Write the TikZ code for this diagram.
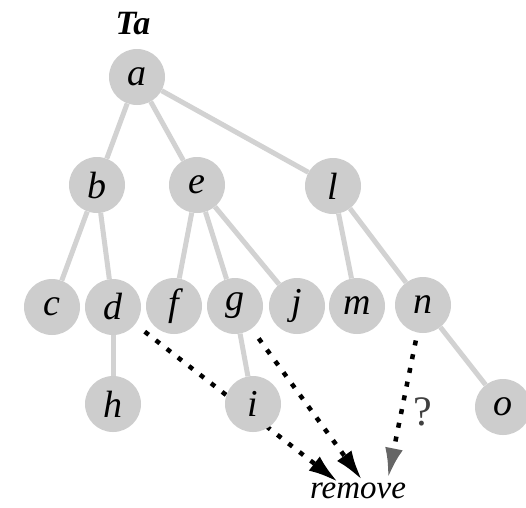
\documentclass[tikz,border=0pt]{standalone}
\usepackage{fontspec}
\setmainfont{Liberation Serif}
\usetikzlibrary{arrows.meta,backgrounds}
\definecolor{nodegray}{RGB}{205,205,205}
\definecolor{edgegray}{RGB}{210,210,210}
\tikzset{
  vertex/.style={circle,fill=nodegray,minimum size=56pt,inner sep=0pt,
    font=\fontsize{38}{38}\selectfont\itshape},
  treeedge/.style={draw=edgegray,line width=5pt},
  moved/.style={line width=4.5pt,dash pattern=on 5pt off 9pt,
    -{Latex[length=30pt,width=18pt]}},
}
\begin{document}
\begin{tikzpicture}[x=1pt,y=-1pt]
      \useasboundingbox (0,0) rectangle (526,507);
      \draw
        (137,77) node[vertex] (a){a}
        (97,185) node[vertex] (b){b}
        (197,185) node[vertex] (e){e}
        (333,186) node[vertex] (l){l}
        (52,307) node[vertex] (c){c}
        (113,307) node[vertex] (d){d}
        (174,306) node[vertex] (f){f}
        (235,306) node[vertex] (g){g}
        (297,306) node[vertex] (j){j}
        (357,306) node[vertex] (m){m}
        (423,305) node[vertex] (n){n}
        (113,404) node[vertex] (h){h}
        (253,404) node[vertex] (i){i}
        (503,407) node[vertex] (o){o};
      \node[font=\fontsize{34}{34}\selectfont\bfseries\itshape] (Ta) at (133,24) {Ta};
      \node[font=\fontsize{33}{33}\selectfont\itshape] (remove) at (358,491) {remove};
      \node[font=\fontsize{42}{42}\selectfont,text=black!75] (q) at (423,412) {?};
      \coordinate (in1) at (338,482);
      \coordinate (in2) at (362,480);
      \coordinate (in3) at (388,478);
      \begin{scope}[on background layer]
        \draw[treeedge] (a) to (b);
        \draw[treeedge] (a) to (e);
        \draw[treeedge] (a) to (l);
        \draw[treeedge] (b) to (c);
        \draw[treeedge] (b) to (d);
        \draw[treeedge] (e) to (f);
        \draw[treeedge] (e) to (g);
        \draw[treeedge] (e) to (j);
        \draw[treeedge] (l) to (m);
        \draw[treeedge] (l) to (n);
        \draw[treeedge] (d) to (h);
        \draw[treeedge] (g) to (i);
        \draw[treeedge] (n) to (o);
        % pruned subtrees
        \draw[moved,shorten <=12pt] (d) to (in1);
        \draw[moved,shorten <=12pt] (g) to (in2);
        \draw[moved,shorten <=8pt,-{Latex[length=30pt,width=18pt,color=black!60]}] (n) to (in3);
      \end{scope}
    \end{tikzpicture}
\end{document}
